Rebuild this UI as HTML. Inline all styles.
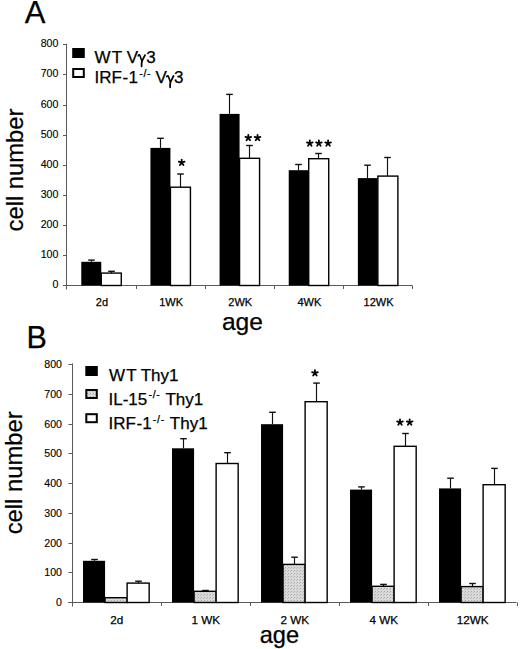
<!DOCTYPE html>
<html><head><meta charset="utf-8"><title>Figure</title>
<style>
html,body{margin:0;padding:0;background:#fff;}
body{width:520px;height:649px;overflow:hidden;}
svg{display:block;}
text{font-family:"Liberation Sans", sans-serif;fill:#000;stroke:#000;stroke-width:0.25px;}
text.s{stroke-width:0.12px;}
text.m{stroke-width:0.25px;}
</style></head>
<body>
<svg width="520" height="649" viewBox="0 0 520 649">
<defs><pattern id="dots" width="3" height="3" patternUnits="userSpaceOnUse"><rect width="3" height="3" fill="#dadada"/><rect x="0" y="0" width="1" height="1" fill="#a8a8a8"/><rect x="2" y="1" width="1" height="1" fill="#bcbcbc"/></pattern></defs>
<rect width="520" height="649" fill="#fff"/>
<text x="24.8" y="22.9" font-size="31" >A</text>
<line x1="66.5" y1="43.84" x2="66.5" y2="289.5" stroke="#5a5a5a" stroke-width="1"/>
<line x1="63" y1="285.5" x2="412.45" y2="285.5" stroke="#5a5a5a" stroke-width="1"/>
<line x1="63" y1="285.5" x2="66.5" y2="285.5" stroke="#5a5a5a" stroke-width="1"/>
<text x="58.4" y="288.30" font-size="10.6" text-anchor="end" class="s">0</text>
<line x1="63" y1="255.5" x2="66.5" y2="255.5" stroke="#5a5a5a" stroke-width="1"/>
<text x="58.4" y="258.30" font-size="10.6" text-anchor="end" class="s">100</text>
<line x1="63" y1="225.5" x2="66.5" y2="225.5" stroke="#5a5a5a" stroke-width="1"/>
<text x="58.4" y="228.30" font-size="10.6" text-anchor="end" class="s">200</text>
<line x1="63" y1="195.5" x2="66.5" y2="195.5" stroke="#5a5a5a" stroke-width="1"/>
<text x="58.4" y="198.30" font-size="10.6" text-anchor="end" class="s">300</text>
<line x1="63" y1="165.5" x2="66.5" y2="165.5" stroke="#5a5a5a" stroke-width="1"/>
<text x="58.4" y="168.30" font-size="10.6" text-anchor="end" class="s">400</text>
<line x1="63" y1="135.5" x2="66.5" y2="135.5" stroke="#5a5a5a" stroke-width="1"/>
<text x="58.4" y="138.30" font-size="10.6" text-anchor="end" class="s">500</text>
<line x1="63" y1="105.5" x2="66.5" y2="105.5" stroke="#5a5a5a" stroke-width="1"/>
<text x="58.4" y="108.30" font-size="10.6" text-anchor="end" class="s">600</text>
<line x1="63" y1="74.5" x2="66.5" y2="74.5" stroke="#5a5a5a" stroke-width="1"/>
<text x="58.4" y="77.30" font-size="10.6" text-anchor="end" class="s">700</text>
<line x1="63" y1="44.5" x2="66.5" y2="44.5" stroke="#5a5a5a" stroke-width="1"/>
<text x="58.4" y="47.30" font-size="10.6" text-anchor="end" class="s">800</text>
<line x1="136.5" y1="285.5" x2="136.5" y2="289" stroke="#5a5a5a" stroke-width="1"/>
<line x1="205.5" y1="285.5" x2="205.5" y2="289" stroke="#5a5a5a" stroke-width="1"/>
<line x1="274.5" y1="285.5" x2="274.5" y2="289" stroke="#5a5a5a" stroke-width="1"/>
<line x1="343.5" y1="285.5" x2="343.5" y2="289" stroke="#5a5a5a" stroke-width="1"/>
<line x1="412.5" y1="285.5" x2="412.5" y2="289" stroke="#5a5a5a" stroke-width="1"/>
<line x1="91.50" y1="260.10" x2="91.50" y2="261.80" stroke="#111" stroke-width="1.15"/><line x1="88.20" y1="260.10" x2="94.80" y2="260.10" stroke="#111" stroke-width="1.4"/>
<line x1="111.50" y1="271.30" x2="111.50" y2="273.10" stroke="#111" stroke-width="1.15"/><line x1="108.20" y1="271.30" x2="114.80" y2="271.30" stroke="#111" stroke-width="1.4"/>
<rect x="81.28" y="261.80" width="20.00" height="23.70" fill="#000"/>
<rect x="101.28" y="273.10" width="20.00" height="12.40" fill="#fff" stroke="#000" stroke-width="1.4"/>
<text x="101.98" y="306.2" font-size="11" text-anchor="middle" class="m">2d</text>
<line x1="160.50" y1="138.30" x2="160.50" y2="147.90" stroke="#111" stroke-width="1.15"/><line x1="157.20" y1="138.30" x2="163.80" y2="138.30" stroke="#111" stroke-width="1.4"/>
<line x1="180.50" y1="174.00" x2="180.50" y2="187.20" stroke="#111" stroke-width="1.15"/><line x1="177.20" y1="174.00" x2="183.80" y2="174.00" stroke="#111" stroke-width="1.4"/>
<rect x="150.43" y="147.90" width="20.00" height="137.60" fill="#000"/>
<rect x="170.43" y="187.20" width="20.00" height="98.30" fill="#fff" stroke="#000" stroke-width="1.4"/>
<text x="171.12" y="306.2" font-size="11" text-anchor="middle" class="m">1WK</text>
<line x1="229.50" y1="94.40" x2="229.50" y2="113.90" stroke="#111" stroke-width="1.15"/><line x1="226.20" y1="94.40" x2="232.80" y2="94.40" stroke="#111" stroke-width="1.4"/>
<line x1="249.50" y1="145.50" x2="249.50" y2="158.30" stroke="#111" stroke-width="1.15"/><line x1="246.20" y1="145.50" x2="252.80" y2="145.50" stroke="#111" stroke-width="1.4"/>
<rect x="219.57" y="113.90" width="20.00" height="171.60" fill="#000"/>
<rect x="239.57" y="158.30" width="20.00" height="127.20" fill="#fff" stroke="#000" stroke-width="1.4"/>
<text x="240.27" y="306.2" font-size="11" text-anchor="middle" class="m">2WK</text>
<line x1="298.50" y1="164.50" x2="298.50" y2="170.20" stroke="#111" stroke-width="1.15"/><line x1="295.20" y1="164.50" x2="301.80" y2="164.50" stroke="#111" stroke-width="1.4"/>
<line x1="318.50" y1="153.50" x2="318.50" y2="158.70" stroke="#111" stroke-width="1.15"/><line x1="315.20" y1="153.50" x2="321.80" y2="153.50" stroke="#111" stroke-width="1.4"/>
<rect x="288.73" y="170.20" width="20.00" height="115.30" fill="#000"/>
<rect x="308.73" y="158.70" width="20.00" height="126.80" fill="#fff" stroke="#000" stroke-width="1.4"/>
<text x="309.43" y="306.2" font-size="11" text-anchor="middle" class="m">4WK</text>
<line x1="367.50" y1="165.20" x2="367.50" y2="178.10" stroke="#111" stroke-width="1.15"/><line x1="364.20" y1="165.20" x2="370.80" y2="165.20" stroke="#111" stroke-width="1.4"/>
<line x1="387.50" y1="157.50" x2="387.50" y2="176.10" stroke="#111" stroke-width="1.15"/><line x1="384.20" y1="157.50" x2="390.80" y2="157.50" stroke="#111" stroke-width="1.4"/>
<rect x="357.88" y="178.10" width="20.00" height="107.40" fill="#000"/>
<rect x="377.88" y="176.10" width="20.00" height="109.40" fill="#fff" stroke="#000" stroke-width="1.4"/>
<text x="378.57" y="306.2" font-size="11" text-anchor="middle" class="m">12WK</text>
<path d="M181.70 162.60L181.70 159.60M181.70 162.60L184.55 161.67M181.70 162.60L183.46 165.03M181.70 162.60L179.94 165.03M181.70 162.60L178.85 161.67" stroke="#000" stroke-width="1.8" stroke-linecap="round" fill="none"/>
<path d="M248.30 137.90L248.30 134.90M248.30 137.90L251.15 136.97M248.30 137.90L250.06 140.33M248.30 137.90L246.54 140.33M248.30 137.90L245.45 136.97" stroke="#000" stroke-width="1.8" stroke-linecap="round" fill="none"/>
<path d="M257.55 137.90L257.55 134.90M257.55 137.90L260.40 136.97M257.55 137.90L259.31 140.33M257.55 137.90L255.79 140.33M257.55 137.90L254.70 136.97" stroke="#000" stroke-width="1.8" stroke-linecap="round" fill="none"/>
<path d="M309.80 143.30L309.80 140.30M309.80 143.30L312.65 142.37M309.80 143.30L311.56 145.73M309.80 143.30L308.04 145.73M309.80 143.30L306.95 142.37" stroke="#000" stroke-width="1.8" stroke-linecap="round" fill="none"/>
<path d="M318.90 143.30L318.90 140.30M318.90 143.30L321.75 142.37M318.90 143.30L320.66 145.73M318.90 143.30L317.14 145.73M318.90 143.30L316.05 142.37" stroke="#000" stroke-width="1.8" stroke-linecap="round" fill="none"/>
<path d="M328.10 143.30L328.10 140.30M328.10 143.30L330.95 142.37M328.10 143.30L329.86 145.73M328.10 143.30L326.34 145.73M328.10 143.30L325.25 142.37" stroke="#000" stroke-width="1.8" stroke-linecap="round" fill="none"/>
<rect x="72.2" y="48" width="12.6" height="10" fill="#000"/>
<rect x="73.2" y="69" width="10.6" height="8" fill="#fff" stroke="#000" stroke-width="2"/>
<text x="94.5" y="62.5" font-size="17">W<tspan dx="1.3">T</tspan> V</text>
<path d="M138.20 55.90C138.50 54.70 139.50 54.40 139.90 55.60L141.90 61.20" stroke="#000" stroke-width="1.55" fill="none" stroke-linecap="round"/><path d="M145.00 55.10L142.10 60.90C141.70 61.90 141.50 64.30 141.60 66.40" stroke="#000" stroke-width="1.75" fill="none" stroke-linecap="round"/>
<text x="146.2" y="62.5" font-size="17">3</text>
<text x="94.5" y="83.3" font-size="17">IRF<tspan dx="0.7">-</tspan><tspan dx="0.3">1</tspan><tspan font-size="10.5" dx="1.2" dy="-6.2" letter-spacing="0.7">-/-</tspan><tspan dx="-0.4" dy="6.2"> V</tspan></text>
<path d="M166.70 76.80C167.00 75.60 168.00 75.30 168.40 76.50L170.40 82.10" stroke="#000" stroke-width="1.55" fill="none" stroke-linecap="round"/><path d="M173.50 76.00L170.60 81.80C170.20 82.80 170.00 85.20 170.10 87.30" stroke="#000" stroke-width="1.75" fill="none" stroke-linecap="round"/>
<text x="173.9" y="83.3" font-size="17">3</text>
<text x="242.4" y="329.6" font-size="24.6" text-anchor="middle">age</text>
<text transform="translate(23.0 170.0) rotate(-90)" x="0" y="0" font-size="23.8" text-anchor="middle">cell number</text>
<text x="26.5" y="348.2" font-size="30.5">B</text>
<line x1="72.5" y1="363.40" x2="72.5" y2="606.5" stroke="#5a5a5a" stroke-width="1"/>
<line x1="68.5" y1="602.5" x2="516.60" y2="602.5" stroke="#5a5a5a" stroke-width="1"/>
<line x1="68.5" y1="602.5" x2="72.5" y2="602.5" stroke="#5a5a5a" stroke-width="1"/>
<text x="62.0" y="605.90" font-size="10.6" text-anchor="end" class="s">0</text>
<line x1="68.5" y1="572.5" x2="72.5" y2="572.5" stroke="#5a5a5a" stroke-width="1"/>
<text x="62.0" y="575.90" font-size="10.6" text-anchor="end" class="s">100</text>
<line x1="68.5" y1="543.5" x2="72.5" y2="543.5" stroke="#5a5a5a" stroke-width="1"/>
<text x="62.0" y="546.90" font-size="10.6" text-anchor="end" class="s">200</text>
<line x1="68.5" y1="513.5" x2="72.5" y2="513.5" stroke="#5a5a5a" stroke-width="1"/>
<text x="62.0" y="516.90" font-size="10.6" text-anchor="end" class="s">300</text>
<line x1="68.5" y1="483.5" x2="72.5" y2="483.5" stroke="#5a5a5a" stroke-width="1"/>
<text x="62.0" y="486.90" font-size="10.6" text-anchor="end" class="s">400</text>
<line x1="68.5" y1="453.5" x2="72.5" y2="453.5" stroke="#5a5a5a" stroke-width="1"/>
<text x="62.0" y="456.90" font-size="10.6" text-anchor="end" class="s">500</text>
<line x1="68.5" y1="424.5" x2="72.5" y2="424.5" stroke="#5a5a5a" stroke-width="1"/>
<text x="62.0" y="427.90" font-size="10.6" text-anchor="end" class="s">600</text>
<line x1="68.5" y1="394.5" x2="72.5" y2="394.5" stroke="#5a5a5a" stroke-width="1"/>
<text x="62.0" y="397.90" font-size="10.6" text-anchor="end" class="s">700</text>
<line x1="68.5" y1="364.5" x2="72.5" y2="364.5" stroke="#5a5a5a" stroke-width="1"/>
<text x="62.0" y="367.90" font-size="10.6" text-anchor="end" class="s">800</text>
<line x1="161.5" y1="602.5" x2="161.5" y2="606" stroke="#5a5a5a" stroke-width="1"/>
<line x1="250.5" y1="602.5" x2="250.5" y2="606" stroke="#5a5a5a" stroke-width="1"/>
<line x1="339.5" y1="602.5" x2="339.5" y2="606" stroke="#5a5a5a" stroke-width="1"/>
<line x1="428.5" y1="602.5" x2="428.5" y2="606" stroke="#5a5a5a" stroke-width="1"/>
<line x1="517.5" y1="602.5" x2="517.5" y2="606" stroke="#5a5a5a" stroke-width="1"/>
<line x1="94.50" y1="559.50" x2="94.50" y2="560.80" stroke="#111" stroke-width="1.15"/><line x1="91.20" y1="559.50" x2="97.80" y2="559.50" stroke="#111" stroke-width="1.4"/>
<line x1="138.50" y1="581.20" x2="138.50" y2="583.10" stroke="#111" stroke-width="1.15"/><line x1="135.20" y1="581.20" x2="141.80" y2="581.20" stroke="#111" stroke-width="1.4"/>
<rect x="83.02" y="560.80" width="22.05" height="41.70" fill="#000"/>
<rect x="105.07" y="597.70" width="22.05" height="4.80" fill="url(#dots)" stroke="#000" stroke-width="1.4"/>
<rect x="127.12" y="583.10" width="22.05" height="19.40" fill="#fff" stroke="#000" stroke-width="1.4"/>
<text x="116.70" y="623.5" font-size="11.7" text-anchor="middle" class="m">2d</text>
<line x1="183.50" y1="438.70" x2="183.50" y2="448.30" stroke="#111" stroke-width="1.15"/><line x1="180.20" y1="438.70" x2="186.80" y2="438.70" stroke="#111" stroke-width="1.4"/>
<line x1="205.50" y1="590.50" x2="205.50" y2="591.30" stroke="#111" stroke-width="1.15"/><line x1="202.20" y1="590.50" x2="208.80" y2="590.50" stroke="#111" stroke-width="1.4"/>
<line x1="227.50" y1="452.70" x2="227.50" y2="463.50" stroke="#111" stroke-width="1.15"/><line x1="224.20" y1="452.70" x2="230.80" y2="452.70" stroke="#111" stroke-width="1.4"/>
<rect x="172.02" y="448.30" width="22.05" height="154.20" fill="#000"/>
<rect x="194.07" y="591.30" width="22.05" height="11.20" fill="url(#dots)" stroke="#000" stroke-width="1.4"/>
<rect x="216.12" y="463.50" width="22.05" height="139.00" fill="#fff" stroke="#000" stroke-width="1.4"/>
<text x="205.70" y="623.5" font-size="11.7" text-anchor="middle" class="m">1 WK</text>
<line x1="272.50" y1="412.30" x2="272.50" y2="424.20" stroke="#111" stroke-width="1.15"/><line x1="269.20" y1="412.30" x2="275.80" y2="412.30" stroke="#111" stroke-width="1.4"/>
<line x1="294.50" y1="557.20" x2="294.50" y2="564.40" stroke="#111" stroke-width="1.15"/><line x1="291.20" y1="557.20" x2="297.80" y2="557.20" stroke="#111" stroke-width="1.4"/>
<line x1="316.50" y1="383.10" x2="316.50" y2="401.70" stroke="#111" stroke-width="1.15"/><line x1="313.20" y1="383.10" x2="319.80" y2="383.10" stroke="#111" stroke-width="1.4"/>
<rect x="261.03" y="424.20" width="22.05" height="178.30" fill="#000"/>
<rect x="283.08" y="564.40" width="22.05" height="38.10" fill="url(#dots)" stroke="#000" stroke-width="1.4"/>
<rect x="305.12" y="401.70" width="22.05" height="200.80" fill="#fff" stroke="#000" stroke-width="1.4"/>
<text x="294.70" y="623.5" font-size="11.7" text-anchor="middle" class="m">2 WK</text>
<line x1="361.50" y1="486.90" x2="361.50" y2="489.60" stroke="#111" stroke-width="1.15"/><line x1="358.20" y1="486.90" x2="364.80" y2="486.90" stroke="#111" stroke-width="1.4"/>
<line x1="383.50" y1="584.40" x2="383.50" y2="586.30" stroke="#111" stroke-width="1.15"/><line x1="380.20" y1="584.40" x2="386.80" y2="584.40" stroke="#111" stroke-width="1.4"/>
<line x1="405.50" y1="433.50" x2="405.50" y2="446.30" stroke="#111" stroke-width="1.15"/><line x1="402.20" y1="433.50" x2="408.80" y2="433.50" stroke="#111" stroke-width="1.4"/>
<rect x="350.03" y="489.60" width="22.05" height="112.90" fill="#000"/>
<rect x="372.08" y="586.30" width="22.05" height="16.20" fill="url(#dots)" stroke="#000" stroke-width="1.4"/>
<rect x="394.12" y="446.30" width="22.05" height="156.20" fill="#fff" stroke="#000" stroke-width="1.4"/>
<text x="383.70" y="623.5" font-size="11.7" text-anchor="middle" class="m">4 WK</text>
<line x1="450.50" y1="478.20" x2="450.50" y2="488.40" stroke="#111" stroke-width="1.15"/><line x1="447.20" y1="478.20" x2="453.80" y2="478.20" stroke="#111" stroke-width="1.4"/>
<line x1="472.50" y1="583.50" x2="472.50" y2="586.60" stroke="#111" stroke-width="1.15"/><line x1="469.20" y1="583.50" x2="475.80" y2="583.50" stroke="#111" stroke-width="1.4"/>
<line x1="494.50" y1="468.40" x2="494.50" y2="484.70" stroke="#111" stroke-width="1.15"/><line x1="491.20" y1="468.40" x2="497.80" y2="468.40" stroke="#111" stroke-width="1.4"/>
<rect x="439.03" y="488.40" width="22.05" height="114.10" fill="#000"/>
<rect x="461.08" y="586.60" width="22.05" height="15.90" fill="url(#dots)" stroke="#000" stroke-width="1.4"/>
<rect x="483.12" y="484.70" width="22.05" height="117.80" fill="#fff" stroke="#000" stroke-width="1.4"/>
<text x="472.70" y="623.5" font-size="11.7" text-anchor="middle" class="m">12WK</text>
<path d="M314.95 373.10L314.95 370.10M314.95 373.10L317.80 372.17M314.95 373.10L316.71 375.53M314.95 373.10L313.19 375.53M314.95 373.10L312.10 372.17" stroke="#000" stroke-width="1.8" stroke-linecap="round" fill="none"/>
<path d="M400.00 422.40L400.00 419.40M400.00 422.40L402.85 421.47M400.00 422.40L401.76 424.83M400.00 422.40L398.24 424.83M400.00 422.40L397.15 421.47" stroke="#000" stroke-width="1.8" stroke-linecap="round" fill="none"/>
<path d="M409.65 422.40L409.65 419.40M409.65 422.40L412.50 421.47M409.65 422.40L411.41 424.83M409.65 422.40L407.89 424.83M409.65 422.40L406.80 421.47" stroke="#000" stroke-width="1.8" stroke-linecap="round" fill="none"/>
<rect x="85.3" y="366" width="12.5" height="10" fill="#000"/>
<rect x="86.3" y="390" width="10.5" height="8" fill="url(#dots)" stroke="#000" stroke-width="2"/>
<rect x="86.3" y="414.2" width="10.5" height="8" fill="#fff" stroke="#000" stroke-width="2"/>
<text x="109.1" y="380.8" font-size="17">W<tspan dx="1.0">T</tspan> Thy1</text>
<text x="108.5" y="404.6" font-size="17">IL-15<tspan font-size="10.5" dx="1.2" dy="-6.2" letter-spacing="0.7">-/-</tspan><tspan dx="0.6" dy="6.2"> Thy1</tspan></text>
<text x="108.5" y="428.8" font-size="17">IRF<tspan dx="0.6">-</tspan>1<tspan font-size="10.5" dx="1.2" dy="-6.2" letter-spacing="0.7">-/-</tspan><tspan dx="0.6" dy="6.2"> Thy1</tspan></text>
<text x="279.4" y="643" font-size="23.6" text-anchor="middle">age</text>
<text transform="translate(21.9 472.8) rotate(-90)" x="0" y="0" font-size="23.8" text-anchor="middle">cell number</text>
</svg>
</body></html>
